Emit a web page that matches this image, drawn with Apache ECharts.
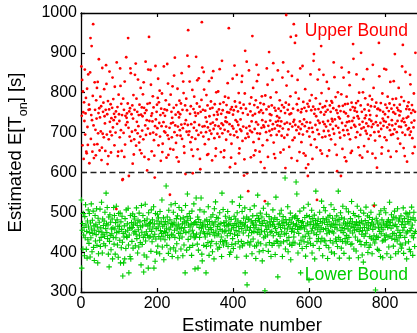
<!DOCTYPE html>
<html>
<head>
<meta charset="utf-8">
<script src="https://cdn.jsdelivr.net/npm/echarts@6/dist/echarts.min.js"></script>
<style>
  html, body { margin: 0; padding: 0; background: #fff; }
  #chart { width: 417px; height: 333px; }
</style>
</head>
<body>
<div id="chart"></div>
<script>
// Estimated E[T_on] per estimate number (1..880)
const upperBound = [
866,742,832,668,803,751,634,776,729,858,695,748,787,652,648,810,714,669,846,757,
770,623,758,851,937,684,744,917,731,652,792,972,718,636,670,826,757,707,643,781,
735,812,671,827,698,749,884,761,655,738,790,703,766,631,662,862,697,752,775,688,
809,741,723,654,757,869,822,695,746,621,779,641,683,758,853,727,702,771,650,736,
693,762,838,713,784,731,747,668,815,739,700,753,508,876,722,764,641,652,795,746,
729,688,861,817,706,772,654,744,581,583,785,699,757,639,828,670,742,719,889,737,
748,726,773,937,712,591,753,690,761,861,849,679,746,702,768,622,735,794,645,683,
757,845,706,873,667,785,727,752,698,833,716,744,675,770,656,690,812,745,648,763,
705,741,796,683,826,762,639,749,718,878,694,756,731,605,772,710,858,633,940,729,
774,697,857,820,742,653,748,728,791,700,763,681,642,587,716,867,733,695,752,770,
711,787,835,668,776,724,805,690,744,629,760,716,798,651,672,749,726,866,703,758,
742,700,781,715,637,756,872,693,823,644,684,770,712,544,659,795,723,752,688,737,
816,725,657,762,843,701,888,718,745,674,769,638,693,810,715,751,627,738,780,706,
746,692,773,720,849,684,757,711,828,799,665,649,722,768,596,731,785,702,756,893,
719,957,694,866,703,828,747,676,766,721,657,688,807,598,641,759,712,790,726,750,
684,742,890,705,773,831,658,748,694,836,719,765,634,608,752,700,782,977,863,715,
757,690,852,808,716,671,755,738,701,794,727,644,768,713,646,683,829,741,705,760,
722,778,697,837,630,762,725,854,709,744,686,771,718,641,660,801,733,752,697,745,
803,716,758,689,859,772,710,651,747,723,880,698,756,719,776,638,655,707,790,728,
738,682,769,726,751,824,703,787,962,750,721,613,695,758,637,672,764,716,835,745,
710,756,693,868,778,622,731,765,702,845,727,688,753,719,799,648,660,775,708,733,
761,704,827,842,679,749,715,770,592,633,798,905,686,760,712,878,598,697,745,553,
689,856,716,772,705,753,638,788,728,701,942,743,812,676,643,769,709,747,655,781,
726,870,829,698,763,720,845,684,751,652,697,774,626,756,712,791,731,668,749,718,
771,714,611,528,793,727,701,758,861,681,820,639,717,765,902,704,746,730,788,693,
744,768,708,832,721,874,675,646,762,710,636,755,727,801,694,741,718,856,729,760,
703,737,781,716,650,754,728,692,769,838,710,876,657,763,687,722,749,611,775,995,
818,725,694,757,853,708,770,664,746,722,791,940,748,636,842,715,681,760,727,972,
732,687,925,719,800,943,706,771,629,832,756,714,785,697,651,728,861,709,751,676,
759,721,867,695,777,648,733,762,716,809,642,611,754,726,703,772,591,620,765,711,
690,780,725,846,669,756,794,712,634,701,765,880,897,747,683,758,719,786,741,663,
531,707,833,730,759,696,858,724,772,655,751,917,799,647,688,763,727,845,704,745,
721,766,690,752,715,779,827,641,757,729,704,810,655,693,768,720,752,683,779,734,
775,728,709,761,876,697,839,733,670,789,717,756,644,603,749,801,712,739,766,700,
735,687,754,591,796,863,724,659,767,706,838,752,693,638,771,717,748,628,790,726,
706,772,741,696,851,728,819,683,757,649,712,775,654,729,764,922,885,737,719,755,
762,715,688,774,846,752,701,741,779,663,735,800,720,643,694,768,900,710,752,637,
727,801,834,713,666,758,736,786,704,743,723,697,859,652,770,716,684,755,733,792,
744,693,766,729,714,783,647,870,721,812,516,701,765,680,636,726,775,742,612,759,
718,760,702,925,841,691,756,724,774,709,647,663,798,735,752,717,729,860,688,746,
770,727,858,681,762,713,790,739,654,754,720,773,706,827,639,694,760,731,718,784,
696,751,829,769,708,897,747,722,785,653,701,762,729,685,756,812,715,743,770,672,
753,714,789,729,866,700,920,735,661,779,726,641,694,852,718,759,737,627,766,708,
740,776,711,758,694,845,821,702,749,725,769,686,648,756,713,798,730,664,752,900
];

const lowerBound = [
531,360,455,472,408,497,443,462,391,489,436,519,468,407,452,385,478,431,506,463,
422,497,449,388,473,436,521,458,401,480,447,503,412,466,379,455,492,428,470,444,
509,417,463,373,485,396,452,475,430,508,414,461,437,525,450,398,483,445,467,421,
478,440,500,416,459,548,471,449,512,434,468,395,488,363,427,494,442,475,406,458,
446,483,383,461,437,512,420,492,458,395,474,436,515,449,481,418,465,387,497,452,
465,430,498,373,476,411,457,490,425,340,447,373,438,466,383,484,451,409,506,440,
437,471,455,510,418,348,443,461,389,492,383,460,474,427,462,496,410,470,448,483,
489,452,416,473,445,511,434,467,398,480,456,413,498,441,476,424,463,368,517,450,
419,466,492,437,350,393,479,445,520,428,470,451,388,483,442,466,360,499,436,472,
458,440,474,402,506,452,426,481,463,438,514,360,471,445,377,497,433,459,400,478,
495,415,463,486,439,471,396,502,454,433,476,447,531,413,465,440,486,381,469,452,
431,477,449,566,460,417,488,442,473,397,505,456,436,481,408,463,519,445,472,389,
469,443,500,411,475,455,437,522,403,466,484,421,458,491,386,470,447,512,435,461,
447,483,408,460,505,438,471,391,486,453,418,476,462,348,517,449,473,405,489,546,
480,432,468,451,497,412,463,485,440,471,392,503,455,417,469,446,521,436,474,358,
438,476,536,445,469,420,488,360,405,482,462,437,506,448,474,536,460,395,378,466,
470,451,417,501,446,478,438,463,348,414,481,447,469,424,514,456,392,477,445,462,
416,488,457,427,473,401,494,449,468,383,509,441,476,526,453,421,487,443,464,408,
485,446,470,412,499,457,426,472,438,389,548,453,427,507,418,474,451,466,429,490,
453,478,423,466,441,502,414,469,455,486,394,471,447,400,482,458,419,526,434,467,
409,462,490,445,472,421,483,454,468,387,499,442,478,426,464,451,517,413,473,538,
474,427,459,502,416,470,448,485,421,466,511,348,475,455,390,488,318,463,424,482,
441,483,455,418,507,462,426,478,449,396,473,491,433,468,452,516,415,461,479,384,
468,416,492,449,543,425,484,457,401,476,445,498,421,467,453,488,378,472,404,510,
436,479,451,303,440,466,418,495,457,473,443,521,402,463,489,424,476,450,468,389,
483,452,417,469,506,441,477,422,465,486,394,459,538,428,449,482,427,338,470,445,
416,471,496,440,462,423,505,451,478,389,467,489,426,474,445,460,586,408,482,447,
473,429,458,514,401,469,437,481,420,463,498,381,475,452,417,486,459,425,471,438,
450,488,423,466,491,576,470,546,484,457,398,479,447,464,420,503,461,348,430,474,
462,409,477,438,467,511,426,458,487,440,390,466,414,492,451,473,425,520,446,330,
489,435,469,421,476,453,505,398,460,484,417,470,448,493,383,461,479,553,468,444,
427,472,456,483,434,466,409,500,451,477,426,461,528,435,473,391,484,457,512,430,
475,428,504,459,417,481,446,469,384,488,455,411,476,450,492,429,465,519,400,468,
452,485,423,471,448,507,396,462,480,433,469,427,491,458,414,478,553,437,482,385,
468,431,499,454,410,486,462,427,515,449,473,397,483,459,434,471,423,509,442,466,
426,475,458,501,437,385,472,453,484,419,465,527,421,476,448,462,497,408,470,455,
492,438,469,403,476,457,515,430,467,386,489,452,474,427,461,505,419,478,445,393,
454,471,375,498,440,462,418,479,446,513,424,468,455,491,399,474,460,412,487,439,
418,466,500,435,473,396,482,457,431,470,441,518,423,463,305,432,485,440,478,407,
473,437,461,404,495,452,470,389,504,446,462,481,428,386,456,473,430,509,441,466,
431,499,443,470,396,477,462,438,481,413,467,525,440,474,387,460,494,435,481,446,
467,415,488,447,503,432,470,396,486,441,464,428,509,455,401,478,436,483,449,420,
442,491,410,469,418,476,455,511,397,462,484,437,470,423,498,448,383,496,451,477,
488,426,473,407,499,454,401,482,460,513,441,468,392,486,436,500,447,414,480,452
];

const separator = 600;
const xTicks = [0, 200, 400, 600, 800];
const seriesNames = ['Upper Bound', 'Lower Bound'];

const FONT = '"Liberation Sans", Arial, Helvetica, sans-serif';
const RED = '#ff0000';
const GREEN = '#00cc00';

const toPoints = arr => arr.map((v, i) => [i + 1, v]);
const plusSymbol = 'path://M4,0H6V10H4ZM0,4H10V6H0Z';

const chart = echarts.init(document.getElementById('chart'), null, { renderer: 'canvas' });

const axisLineStyle = { lineStyle: { color: '#000', width: 1.3 } };
const tickStyle = { color: '#000', width: 1.2 };

chart.setOption({
  animation: false,
  backgroundColor: '#fff',
  // the frame runs slightly past the right edge of the canvas (x up to 900)
  grid: { left: 81, top: 13, width: 342, height: 279, containLabel: false, outerBoundsMode: 'none' },
  xAxis: [{
    type: 'value', min: 0, max: 900, position: 'bottom',
    axisLine: axisLineStyle,
    axisTick: { inside: true, length: 4, customValues: xTicks, lineStyle: tickStyle },
    axisLabel: { customValues: xTicks, color: '#000', fontSize: 16, fontFamily: FONT, margin: 4,
                 formatter: v => String(v) },
    splitLine: { show: false },
    name: 'Estimate number', nameLocation: 'middle', nameGap: 23,
    nameTextStyle: { color: '#000', fontSize: 18.5, fontFamily: FONT }
  }, {
    type: 'value', min: 0, max: 900, position: 'top',
    axisLine: axisLineStyle,
    axisTick: { inside: true, length: 4, customValues: xTicks, lineStyle: tickStyle },
    axisLabel: { show: false },
    splitLine: { show: false }
  }],
  yAxis: {
    type: 'value', min: 300, max: 1000, interval: 100,
    axisLine: axisLineStyle,
    axisTick: { inside: true, length: 4, lineStyle: tickStyle },
    axisLabel: { color: '#000', fontSize: 16, fontFamily: FONT, margin: 4, formatter: v => String(v) },
    splitLine: { show: false },
    name: '{n|Estimated E[T}{s|on}{n|] [s]}',
    nameLocation: 'middle', nameRotate: 90, nameGap: 54,
    nameTextStyle: {
      color: '#000', fontFamily: FONT,
      rich: {
        n: { fontSize: 18.5, fontFamily: FONT, color: '#000', lineHeight: 24, verticalAlign: 'bottom' },
        s: { fontSize: 12.5, fontFamily: FONT, color: '#000', lineHeight: 24, verticalAlign: 'bottom', padding: [0, 0, -5, 0] }
      }
    }
  },
  series: [{
    name: seriesNames[1],
    type: 'scatter',
    data: toPoints(lowerBound),
    symbol: plusSymbol,
    symbolSize: 5.5,
    itemStyle: { color: GREEN, opacity: 1 },
    silent: true
  }, {
    name: seriesNames[0],
    type: 'scatter',
    data: toPoints(upperBound),
    symbol: 'circle',
    symbolSize: 2.8,
    itemStyle: { color: RED, opacity: 1 },
    silent: true,
    markLine: {
      silent: true,
      symbol: 'none',
      label: { show: false },
      lineStyle: { color: '#222', width: 1.4, type: [6, 3.5] },
      data: [{ yAxis: separator }]
    }
  }],
  graphic: [{
    type: 'text', right: 9, top: 22,
    style: { text: seriesNames[0], fill: RED, font: '17.5px ' + FONT }
  }, {
    type: 'text', right: 9, top: 266,
    style: { text: seriesNames[1], fill: GREEN, font: '17.5px ' + FONT }
  }]
});
</script>
</body>
</html>
